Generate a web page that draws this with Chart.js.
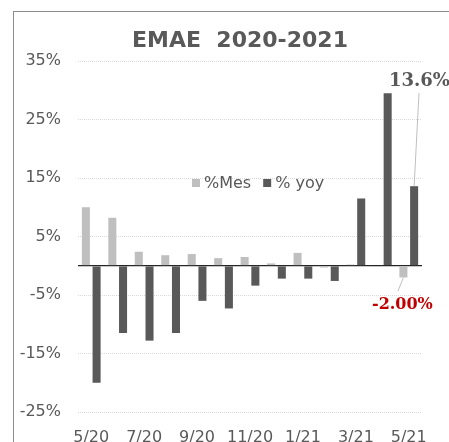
<!DOCTYPE html>
<html lang="es">
<head>
<meta charset="utf-8">
<title>EMAE 2020-2021</title>
<script src="https://cdn.jsdelivr.net/npm/chart.js@4.4.1/dist/chart.umd.min.js"></script>
<style>
  html, body { margin: 0; padding: 0; background: #fff; overflow: hidden; }
  #contenedor { position: relative; width: 449px; height: 442px; overflow: hidden; }
  /* marco: solo izquierda y arriba, el resto queda fuera del recorte */
  #marco {
    position: absolute; left: 13px; top: 11px; width: 460px; height: 460px;
    border-left: 1px solid #8c8c8c; border-top: 1px solid #8c8c8c;
  }
  #grafico { position: absolute; left: 0; top: 0; display: block; }
</style>
</head>
<body>
<div id="contenedor">
  <div id="marco"></div>
  <canvas id="grafico" width="449" height="442"></canvas>
</div>
<script>
/* ============================================
   EMAE 2020-2021: variación mensual e interanual
   ============================================ */

// Meses (eje X)
const meses = ['5/20', '6/20', '7/20', '8/20', '9/20', '10/20', '11/20', '12/20',
               '1/21', '2/21', '3/21', '4/21', '5/21'];

// Variación mensual (%)
const varMes = [10.0, 8.2, 2.4, 1.8, 2.0, 1.3, 1.5, 0.4, 2.2, -0.3, 0.2, -0.2, -2.0];

// Variación interanual (%)
const varYoy = [-20.0, -11.5, -12.8, -11.5, -6.0, -7.3, -3.4, -2.2, -2.2, -2.6, 11.5, 29.5, 13.6];

// Escala Y
const yMin = -25;
const yMax = 35;
const yPaso = 10;

const GRIS_TEXTO = '#595959';
const GRIS_CLARO = '#bfbfbf';
const GRIS_OSCURO = '#595959';
const ROJO = '#c00000';

/**
 * Título, leyenda y etiquetas dibujados a mano
 */
const decoracion = {
  id: 'decoracion',
  afterDraw(chart) {
    const ctx = chart.ctx;
    ctx.save();

    // Título
    ctx.fillStyle = GRIS_TEXTO;
    ctx.font = "bold 22px 'DejaVu Sans', Verdana, sans-serif";
    ctx.textAlign = 'center';
    ctx.textBaseline = 'alphabetic';
    ctx.fillText('EMAE  2020-2021', 240, 47);

    // Leyenda dentro del área
    ctx.font = "16px 'DejaVu Sans', Verdana, sans-serif";
    ctx.textAlign = 'left';
    ctx.textBaseline = 'middle';
    let x = 192;
    chart.data.datasets.forEach(ds => {
      ctx.fillStyle = ds.backgroundColor;
      ctx.fillRect(x, 179, 8, 8);
      ctx.fillStyle = GRIS_TEXTO;
      ctx.fillText(ds.label, x + 12, 184);
      x += 12 + ctx.measureText(ds.label).width + 12;
    });

    // Etiquetas del último mes con línea guía
    const barYoy = chart.getDatasetMeta(1).data[meses.length - 1];
    const barMes = chart.getDatasetMeta(0).data[meses.length - 1];

    ctx.strokeStyle = GRIS_CLARO;
    ctx.lineWidth = 1;
    ctx.beginPath();
    ctx.moveTo(419, 93);
    ctx.lineTo(barYoy.x, barYoy.y);
    ctx.moveTo(barMes.x, barMes.y);
    ctx.lineTo(398, 291);
    ctx.stroke();

    ctx.textBaseline = 'alphabetic';
    ctx.font = "bold 18px 'DejaVu Serif', serif";
    ctx.fillStyle = GRIS_TEXTO;
    ctx.fillText(varYoy[varYoy.length - 1].toFixed(1) + '%', 389, 86);

    ctx.font = "bold 16px 'DejaVu Serif', serif";
    ctx.fillStyle = ROJO;
    ctx.fillText(varMes[varMes.length - 1].toFixed(2) + '%', 372, 309);

    ctx.restore();
  },
};

const fuenteEjes = { family: "'DejaVu Sans', Verdana, sans-serif", size: 16 };

new Chart(document.getElementById('grafico'), {
  type: 'bar',
  data: {
    labels: meses,
    datasets: [
      {
        label: '%Mes',
        data: varMes,
        backgroundColor: GRIS_CLARO,
        categoryPercentage: 0.81,
        barPercentage: 0.75,
      },
      {
        label: '% yoy',
        data: varYoy,
        backgroundColor: GRIS_OSCURO,
        categoryPercentage: 0.81,
        barPercentage: 0.75,
      },
    ],
  },
  options: {
    responsive: false,
    animation: false,
    layout: { padding: { top: 61, right: 27, left: 0, bottom: 0 } },
    plugins: {
      legend: { display: false },
      title: { display: false },
      tooltip: { enabled: false },
    },
    scales: {
      x: {
        grid: { display: false, drawTicks: false },
        border: { display: false },
        ticks: {
          color: GRIS_TEXTO,
          font: fuenteEjes,
          autoSkip: false,
          maxRotation: 0,
          padding: 16,
          callback: (valor, i) => (i % 2 === 0 ? meses[i] : ''),
        },
        afterFit: (escala) => { escala.height = 30; },
      },
      y: {
        min: yMin,
        max: yMax,
        grid: {
          drawTicks: false,
          color: (c) => (c.tick && c.tick.value === 0 ? '#262626' : '#d9d9d9'),
          lineWidth: (c) => (c.tick && c.tick.value === 0 ? 1.3 : 1),
        },
        border: {
          display: false,
          dash: (c) => (c.tick && c.tick.value === 0 ? [] : [1, 1]),
        },
        ticks: {
          stepSize: yPaso,
          color: GRIS_TEXTO,
          font: fuenteEjes,
          padding: 17,
          // el cero solo lleva la línea, sin etiqueta
          callback: (v) => (v === 0 ? '' : v + '%'),
        },
        afterBuildTicks: (escala) => {
          // Marcas cada 10% desde -25, más la línea del cero
          const ticks = [];
          for (let v = yMin; v <= yMax; v += yPaso) ticks.push({ value: v });
          ticks.push({ value: 0 });
          escala.ticks = ticks;
        },
        afterFit: (escala) => { escala.width = 78; },
      },
    },
  },
  plugins: [decoracion],
});
</script>
</body>
</html>
